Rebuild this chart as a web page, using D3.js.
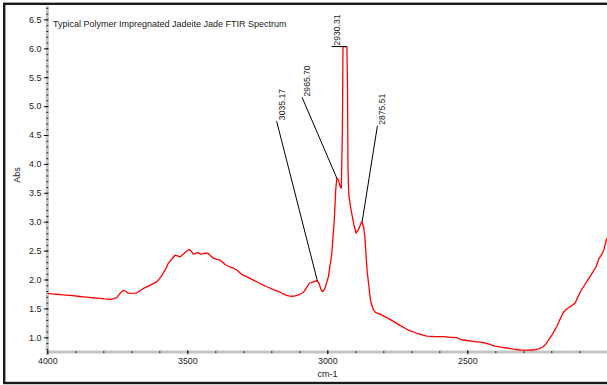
<!DOCTYPE html>
<html>
<head>
<meta charset="utf-8">
<script src="https://cdn.jsdelivr.net/npm/d3@7"></script>
<style>
  body { margin: 0; background: #fff; }
  svg { display: block; font-family: "Liberation Sans", Arial, sans-serif; }
</style>
</head>
<body>
<svg id="chart" width="607" height="385"></svg>
<script>
// spectrum (cm-1 descending)
const wavenumbers = [
  4000, 3985, 3965, 3945, 3931, 3910, 3890, 3871, 3850, 3830, 3812, 3795, 3776, 3765, 3752, 3740,
  3730, 3722, 3712, 3705, 3690, 3681, 3670, 3657, 3640, 3625, 3609, 3595, 3586, 3575, 3568, 3556,
  3544, 3535, 3526, 3510, 3500, 3493, 3486, 3479, 3470, 3461, 3455, 3449, 3437, 3425, 3415, 3407,
  3395, 3383, 3372, 3365, 3350, 3336, 3322, 3306, 3285, 3264, 3240, 3216, 3190, 3169, 3150, 3139,
  3125, 3115, 3100, 3086, 3075, 3064, 3050, 3038, 3030, 3022, 3016, 3008, 2996, 2984, 2975, 2970,
  2966, 2960, 2955, 2950, 2946, 2944, 2930, 2928, 2926, 2923, 2915, 2905, 2897, 2888, 2880,
  2876, 2870, 2866, 2858, 2846, 2836, 2828, 2812, 2800, 2776, 2745, 2711, 2680, 2645, 2615, 2586,
  2560, 2538, 2525, 2514, 2495, 2479, 2455, 2431, 2415, 2401, 2380, 2359, 2335, 2312, 2290, 2264,
  2245, 2229, 2218, 2210, 2195, 2181, 2168, 2157, 2145, 2133, 2122, 2115, 2106, 2098, 2086, 2074,
  2062, 2050, 2040, 2030, 2020, 2012, 2004, 2000
];
const absorbance = [
  1.76, 1.75, 1.745, 1.735, 1.73, 1.72, 1.71, 1.70, 1.69, 1.68, 1.675, 1.665, 1.657, 1.665, 1.685, 1.76,
  1.81, 1.80, 1.765, 1.76, 1.765, 1.77, 1.80, 1.845, 1.88, 1.92, 1.96, 2.04, 2.11, 2.20, 2.28, 2.35,
  2.42, 2.41, 2.39, 2.46, 2.50, 2.52, 2.49, 2.44, 2.45, 2.47, 2.44, 2.44, 2.455, 2.45, 2.40, 2.37,
  2.35, 2.335, 2.29, 2.26, 2.22, 2.20, 2.16, 2.09, 2.04, 1.99, 1.93, 1.875, 1.82, 1.78, 1.735, 1.715,
  1.71, 1.715, 1.74, 1.775, 1.85, 1.935, 1.96, 1.98, 1.94, 1.82, 1.79, 1.85, 2.05, 2.45, 3.03, 3.55,
  3.75, 3.72, 3.62, 3.58, 4.6, 6.03, 6.03, 5.4, 3.9, 3.45, 3.2, 2.95, 2.80, 2.87, 2.97,
  3.00, 2.90, 2.74, 2.16, 1.645, 1.48, 1.43, 1.40, 1.37, 1.31, 1.22, 1.126, 1.07, 1.022, 1.012, 1.010,
  1.000, 0.993, 0.97, 0.953, 0.94, 0.931, 0.915, 0.896, 0.87, 0.849, 0.83, 0.815, 0.795, 0.78, 0.777, 0.78,
  0.80, 0.837, 0.89, 0.953, 1.06, 1.183, 1.32, 1.43, 1.49, 1.53, 1.565, 1.59, 1.69, 1.77, 1.87, 1.96,
  2.05, 2.14, 2.22, 2.36, 2.43, 2.52, 2.67, 2.72
];

// peak annotations: where they point and where their label sits
const peakLabels = ['3035.17', '2965.70', '2930.31', '2875.51'];
const peakWavenumbers = [3035.17, 2965.70, 2930.31, 2875.51];
const peakAbs = [1.97, 3.75, 6.03, 3.0];
const labelWavenumbers = [3181, 3090, 2984, 2821];
const labelAbs = [4.74, 5.15, 6.03, 4.66];

const xMajorTicks = [4000, 3500, 3000, 2500];
const yMajorTicks = [1.0, 1.5, 2.0, 2.5, 3.0, 3.5, 4.0, 4.5, 5.0, 5.5, 6.0, 6.5];

const title = 'Typical Polymer Impregnated Jadeite Jade FTIR Spectrum';

const plot = {left: 47.3, right: 607.3, top: 5, bottom: 352};

const x = d3.scaleLinear().domain([4000, 2000]).range([plot.left, plot.right]);
const y = d3.scaleLinear().domain([1, 6.5]).range([337.3, 19.4]);

const svg = d3.select('#chart');

// outer frame
svg.append('rect')
  .attr('x', 4.2).attr('y', 3.8)
  .attr('width', 640).attr('height', 379.2)
  .attr('fill', 'none')
  .attr('stroke', '#1a1a1a')
  .attr('stroke-width', 2.4);

// grey axis bars
svg.append('line')
  .attr('x1', plot.left).attr('x2', plot.left)
  .attr('y1', plot.top + 1).attr('y2', plot.bottom + 3)
  .attr('stroke', '#c4c4c4').attr('stroke-width', 3);
svg.append('line')
  .attr('x1', plot.left).attr('x2', 607)
  .attr('y1', plot.bottom).attr('y2', plot.bottom)
  .attr('stroke', '#c4c4c4').attr('stroke-width', 3);

// minor ticks
const yMinor = d3.range(8, 68).map(d => d / 10);
svg.append('g')
  .attr('transform', 'translate(' + (plot.left + 1) + ',0)')
  .call(d3.axisLeft(y).tickValues(yMinor).tickSize(1.8).tickFormat(''))
  .call(g => g.select('.domain').remove())
  .call(g => g.selectAll('.tick line').attr('stroke', '#111'));

const xMinor = d3.range(2000, 4001, 100);
svg.append('g')
  .attr('transform', 'translate(0,' + plot.bottom + ')')
  .call(d3.axisBottom(x).tickValues(xMinor).tickSize(1).tickFormat(''))
  .call(g => g.select('.domain').remove())
  .call(g => g.selectAll('.tick line').attr('y1', -0.8).attr('stroke', '#111'));

// major ticks + labels
svg.append('g')
  .attr('transform', 'translate(' + (plot.left + 1) + ',0)')
  .call(d3.axisLeft(y).tickValues(yMajorTicks).tickSize(4.5).tickPadding(2.3).tickFormat(d3.format('.1f')))
  .call(g => g.select('.domain').remove())
  .call(g => g.selectAll('.tick line').attr('stroke', '#111'))
  .call(g => g.selectAll('.tick text').attr('font-size', 9).attr('fill', '#222')
    .attr('font-family', '"Liberation Sans", Arial, sans-serif'));

svg.append('g')
  .attr('transform', 'translate(0,' + plot.bottom + ')')
  .call(d3.axisBottom(x).tickValues(xMajorTicks).tickSize(2.2).tickPadding(4).tickFormat(d3.format('d')))
  .call(g => g.select('.domain').remove())
  .call(g => g.selectAll('.tick line').attr('y1', -1.8).attr('stroke', '#111'))
  .call(g => g.selectAll('.tick text').attr('font-size', 8.8).attr('fill', '#222')
    .attr('font-family', '"Liberation Sans", Arial, sans-serif'));

// axis titles
svg.append('text')
  .attr('x', 327.5).attr('y', 377)
  .attr('text-anchor', 'middle')
  .attr('font-size', 9).attr('fill', '#222')
  .text('cm-1');

svg.append('text')
  .attr('transform', 'translate(20,175) rotate(-90)')
  .attr('text-anchor', 'middle')
  .attr('font-size', 9).attr('fill', '#222')
  .text('Abs');

svg.append('text')
  .attr('x', 53).attr('y', 27)
  .attr('font-size', 9).attr('fill', '#222')
  .text(title);

// spectrum
svg.append('clipPath')
  .attr('id', 'plot-clip')
  .append('rect')
  .attr('x', plot.left).attr('y', plot.top)
  .attr('width', plot.right - plot.left).attr('height', plot.bottom - plot.top);

const spectrum = wavenumbers.map((wn, i) => [wn, absorbance[i]]);

svg.append('path')
  .datum(spectrum)
  .attr('clip-path', 'url(#plot-clip)')
  .attr('fill', 'none')
  .attr('stroke', '#ff0000')
  .attr('stroke-width', 1.3)
  .attr('stroke-linejoin', 'round')
  .attr('d', d3.line().x(d => x(d[0])).y(d => y(d[1])));

// peak labels with leader lines
const labels = svg.append('g').attr('class', 'peak-labels');
peakLabels.forEach((label, i) => {
  const lx = x(labelWavenumbers[i]);
  const ly = y(labelAbs[i]);

  labels.append('line')
    .attr('x1', lx).attr('y1', ly)
    .attr('x2', x(peakWavenumbers[i])).attr('y2', y(peakAbs[i]))
    .attr('stroke', '#000').attr('stroke-width', 1);

  labels.append('text')
    .attr('transform', 'translate(' + (lx + 8) + ',' + (ly - 1) + ') rotate(-90)')
    .attr('font-size', 8.6).attr('fill', '#222')
    .text(label);
});
</script>
</body>
</html>
